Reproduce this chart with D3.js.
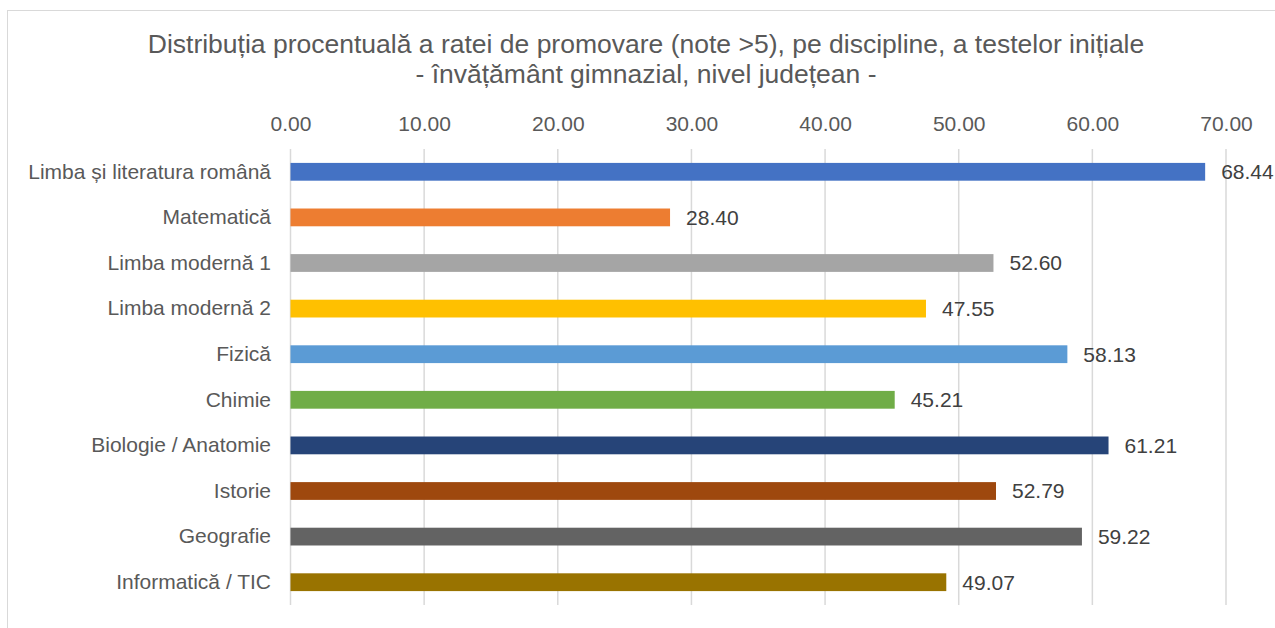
<!DOCTYPE html>
<html>
  <head>
    <meta charset="utf-8" />
    <script src="https://d3js.org/d3.v7.min.js"></script>
    <style>
      body { margin: 0; background: #fff; }
      text { font-family: "Liberation Sans", Arial, sans-serif; }
    </style>
  </head>
  <body>
    <svg id="chart"></svg>
    <script>
      // Data
      var subjects = [
        "Limba și literatura română",
        "Matematică",
        "Limba modernă 1",
        "Limba modernă 2",
        "Fizică",
        "Chimie",
        "Biologie / Anatomie",
        "Istorie",
        "Geografie",
        "Informatică / TIC"
      ];
      var rates = [68.44, 28.4, 52.6, 47.55, 58.13, 45.21, 61.21, 52.79, 59.22, 49.07];
      var barColors = [
        "#4472C4", "#ED7D31", "#A5A5A5", "#FFC000", "#5B9BD5",
        "#70AD47", "#264478", "#9E480E", "#636363", "#997300"
      ];
      var xTicks = [0, 10, 20, 30, 40, 50, 60, 70];
      var titleLines = [
        "Distribuția procentuală a ratei de promovare (note >5), pe discipline, a testelor inițiale",
        "- învățământ gimnazial, nivel județean -"
      ];

      var width = 1275;
      var height = 628;
      var margin = { top: 149, left: 290.5, right: 49, bottom: 23 };

      var svg = d3.select("#chart").attr("width", width).attr("height", height);

      // chart border
      svg.append("rect")
        .attr("x", 7.5).attr("y", 10.5)
        .attr("width", width).attr("height", height)
        .attr("fill", "none").attr("stroke", "#d9d9d9");

      var x = d3.scaleLinear().domain([0, 70]).range([margin.left, width - margin.right]);
      var y = d3.scaleBand().domain(subjects)
        .range([margin.top, height - margin.bottom])
        .paddingInner(0.61).paddingOuter(0.305);

      // title
      svg.append("g").selectAll("text")
        .data(titleLines)
        .join("text")
        .attr("x", 646)
        .attr("y", (d, i) => 53 + i * 30)
        .attr("text-anchor", "middle")
        .attr("fill", "#595959")
        .style("font-size", "26.5px")
        .text((d) => d);

      // gridlines
      svg.append("g").selectAll("line")
        .data(xTicks)
        .join("line")
        .attr("x1", (d) => x(d)).attr("x2", (d) => x(d))
        .attr("y1", margin.top).attr("y2", height - margin.bottom)
        .attr("stroke", "#d9d9d9").attr("stroke-width", 1.5);

      // top axis
      var xAxis = svg.append("g")
        .attr("transform", "translate(0,134)")
        .call(d3.axisTop(x).tickValues(xTicks).tickFormat(d3.format(".2f")).tickSize(0));
      xAxis.select(".domain").remove();
      xAxis.selectAll("text").attr("fill", "#595959").style("font-size", "21px");

      // left axis
      var yAxis = svg.append("g")
        .attr("transform", "translate(" + (margin.left - 16.5) + ",0)")
        .call(d3.axisLeft(y).tickSize(0));
      yAxis.select(".domain").remove();
      yAxis.selectAll("text").attr("fill", "#595959").style("font-size", "21px");

      // bars
      svg.append("g").selectAll("rect")
        .data(subjects)
        .join("rect")
        .attr("x", x(0))
        .attr("y", (d) => y(d))
        .attr("width", (d, i) => x(rates[i]) - x(0))
        .attr("height", y.bandwidth())
        .attr("fill", (d, i) => barColors[i]);

      // value labels
      svg.append("g").selectAll("text")
        .data(subjects)
        .join("text")
        .attr("x", (d, i) => x(rates[i]) + 16)
        .attr("y", (d) => y(d) + y.bandwidth() / 2)
        .attr("dy", "0.35em")
        .attr("fill", "#404040")
        .style("font-size", "21px")
        .text((d, i) => d3.format(".2f")(rates[i]));
    </script>
  </body>
</html>
